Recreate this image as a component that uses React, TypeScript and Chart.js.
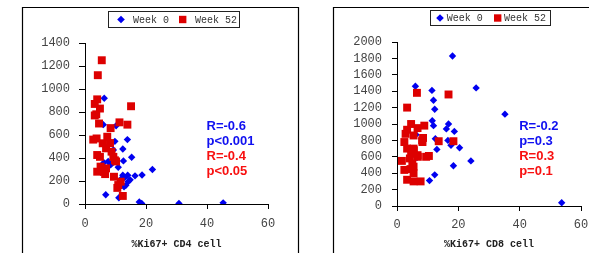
import React, { useEffect, useRef } from "react";
import { Chart, registerables } from "chart.js";

Chart.register(...registerables);

// ---- Data ----
const seriesLabels = ["Week 0", "Week 52"];

const cd4Week0: [number, number][] = [
  [6.3, 920], [6.0, 690], [10.2, 680], [13.9, 560], [9.8, 545], [9.3, 470], [12.4, 478],
  [15.3, 406], [12.6, 375], [7.6, 370], [6.2, 360], [8.4, 340], [10.9, 320], [22.1, 300],
  [12.4, 250], [14.0, 250], [16.4, 245], [18.7, 252], [14.8, 210], [14.2, 195], [13.4, 162],
  [12.8, 150], [6.8, 80], [11.1, 55], [17.8, 17], [18.6, 5], [30.8, 5], [45.3, 10],
  [12.1, 225], [13.0, 230],
];
const cd4Week52: [number, number][] = [
  [5.5, 1250], [4.2, 1120], [4.0, 910], [3.2, 870], [4.9, 830], [3.7, 780], [3.2, 770],
  [4.6, 700], [15.1, 850], [11.3, 710], [13.9, 690], [8.4, 660], [7.3, 585], [3.8, 570],
  [2.7, 560], [5.8, 528], [8.2, 530], [6.9, 484], [8.7, 455], [4.0, 426], [4.9, 410],
  [9.3, 410], [9.8, 380], [10.2, 370], [5.1, 325], [6.9, 310], [4.0, 281], [6.2, 280],
  [6.6, 260], [9.5, 237], [11.7, 194], [10.9, 165], [10.6, 140], [12.4, 70],
];
const cd8Week0: [number, number][] = [
  [18.1, 1830], [6.0, 1460], [25.8, 1440], [11.4, 1410], [11.9, 1290], [12.3, 1180],
  [35.2, 1120], [11.5, 1040], [11.9, 980], [16.8, 1000], [16.1, 940], [18.7, 910],
  [6.2, 870], [8.1, 820], [12.5, 820], [16.6, 800], [17.6, 740], [20.4, 710], [13.0, 690],
  [6.5, 590], [18.4, 490], [24.1, 550], [12.3, 380], [10.6, 310], [53.7, 40],
];
const cd8Week52: [number, number][] = [
  [6.5, 1380], [16.8, 1360], [3.3, 1200], [4.6, 1000], [3.3, 930], [6.7, 950], [8.9, 980],
  [5.4, 860], [8.5, 830], [2.4, 780], [8.3, 780], [13.6, 790], [18.4, 790], [3.3, 700],
  [5.4, 700], [4.6, 640], [6.7, 620], [1.6, 550], [4.2, 580], [6.8, 600], [9.5, 600],
  [10.4, 610], [2.4, 440], [5.4, 480], [5.4, 400], [3.3, 320], [5.4, 300], [7.7, 300],
  [4.4, 450], [5.0, 520], [5.5, 680], [2.8, 880], [8.2, 800],
];

const xTicks = { min: 0, max: 60, step: 20 };
const cd4YTicks = { min: 0, max: 1400, step: 200 };
const cd8YTicks = { min: 0, max: 2000, step: 200 };

const cd4Stats = ["R=-0.6", "p<0.001", "R=-0.4", "p<0.05"];
const cd8Stats = ["R=-0.2", "p=0.3", "R=0.3", "p=0.1"];

const BLUE = "#0000F0";
const RED_MARK = "#DD0000";
const BLUE_TEXT = "#1010F0";
const RED_TEXT = "#F81010";
const MONO = "'Liberation Mono', 'DejaVu Sans Mono', monospace";
const SANS = "'Liberation Sans', Arial, sans-serif";

type PanelCfg = {
  week0: [number, number][];
  week52: [number, number][];
  yTicks: { min: number; max: number; step: number };
  title: string;
  stats: string[];
  yWidth: number;
  padTop: number;
  padRight: number;
  xHeight: number;
  yTickLen: number;
  yTickPad: number;
  xTickPad: number;
  box: { left: number; top: number; right: number };
  legend: { left: number; top: number; w: number; h: number; m1: number; t1: number; m2: number; t2: number };
};

function drawMarker(ctx: CanvasRenderingContext2D, kind: string, x: number, y: number, r: number, color: string) {
  ctx.fillStyle = color;
  ctx.beginPath();
  if (kind === "diamond") {
    ctx.moveTo(x - r, y);
    ctx.lineTo(x, y - r);
    ctx.lineTo(x + r, y);
    ctx.lineTo(x, y + r);
    ctx.closePath();
  } else {
    ctx.rect(x - r, y - r, 2 * r, 2 * r);
  }
  ctx.fill();
}

function Panel({ cfg, left }: { cfg: PanelCfg; left: number }) {
  const ref = useRef<HTMLCanvasElement | null>(null);
  useEffect(() => {
    if (!ref.current) return;
    const decor = {
      id: "decor",
      afterDraw(chart: any) {
        const ctx = chart.ctx as CanvasRenderingContext2D;
        const xs = chart.scales.x;
        ctx.save();
        // panel border
        ctx.strokeStyle = "#000";
        ctx.lineWidth = 1.2;
        ctx.beginPath();
        ctx.moveTo(cfg.box.left, 260);
        ctx.lineTo(cfg.box.left, cfg.box.top);
        ctx.lineTo(cfg.box.right, cfg.box.top);
        ctx.lineTo(cfg.box.right, 260);
        ctx.stroke();
        // legend
        const L = cfg.legend;
        ctx.lineWidth = 1;
        ctx.strokeStyle = "#222";
        ctx.strokeRect(L.left + 0.5, L.top + 0.5, L.w, L.h);
        const cy = L.top + L.h / 2 + 0.5;
        drawMarker(ctx, "diamond", L.m1, cy, 3.8, BLUE);
        drawMarker(ctx, "square", L.m2, cy, 3.7, RED_MARK);
        ctx.fillStyle = "#333";
        ctx.font = `10px ${MONO}`;
        ctx.textBaseline = "middle";
        ctx.textAlign = "left";
        ctx.fillText(seriesLabels[0], L.t1, cy + 0.5);
        ctx.fillText(seriesLabels[1], L.t2, cy + 0.5);
        // stats text
        ctx.font = `bold 13px ${SANS}`;
        ctx.textBaseline = "alphabetic";
        const tx = xs.getPixelForValue(40) - 0.5;
        const colors = [BLUE_TEXT, BLUE_TEXT, RED_TEXT, RED_TEXT];
        cfg.stats.forEach((s, i) => {
          ctx.fillStyle = colors[i];
          ctx.fillText(s, tx, 129.5 + i * 15);
        });
        ctx.restore();
      },
    };
    const chart = new Chart(ref.current, {
      type: "scatter",
      data: {
        datasets: [
          {
            label: seriesLabels[0],
            data: cfg.week0.map(([x, y]) => ({ x, y })),
            pointStyle: "rectRot",
            pointRadius: 3.7,
            pointBorderWidth: 0,
            backgroundColor: BLUE,
            borderColor: BLUE,
            order: 2,
          },
          {
            label: seriesLabels[1],
            data: cfg.week52.map(([x, y]) => ({ x, y })),
            pointStyle: "rect",
            pointRadius: 5.6,
            pointBorderWidth: 0,
            backgroundColor: RED_MARK,
            borderColor: RED_MARK,
            order: 1,
          },
        ],
      },
      options: {
        responsive: false,
        animation: false,
        events: [],
        layout: { padding: { left: 0, top: cfg.padTop, right: cfg.padRight, bottom: 0 } },
        plugins: { legend: { display: false }, tooltip: { enabled: false } },
        scales: {
          x: {
            type: "linear",
            min: xTicks.min,
            max: xTicks.max,
            ticks: {
              stepSize: xTicks.step,
              color: "#444",
              font: { family: MONO, size: 12 },
              padding: cfg.xTickPad,
              maxRotation: 0,
              autoSkip: false,
              callback: (v: any) => String(v),
            },
            grid: { drawOnChartArea: false, drawTicks: true, tickLength: 5, color: "#000" },
            border: { display: true, color: "#000", width: 1 },
            title: {
              display: true,
              text: cfg.title,
              color: "#222",
              font: { family: MONO, size: 10, weight: "bold" },
              padding: { top: 0, bottom: 3 },
            },
            afterFit: (s: any) => {
              s.height = cfg.xHeight;
            },
          },
          y: {
            type: "linear",
            min: cfg.yTicks.min,
            max: cfg.yTicks.max,
            ticks: {
              stepSize: cfg.yTicks.step,
              color: "#444",
              font: { family: MONO, size: 12 },
              padding: cfg.yTickPad,
              autoSkip: false,
              callback: (v: any) => String(v),
            },
            grid: { drawOnChartArea: false, drawTicks: true, tickLength: cfg.yTickLen, color: "#000" },
            border: { display: true, color: "#000", width: 1 },
            afterFit: (s: any) => {
              s.width = cfg.yWidth;
            },
          },
        },
      },
      plugins: [decor],
    } as any);
    return () => chart.destroy();
  }, [cfg]);
  return (
    <canvas
      ref={ref}
      width={300}
      height={253}
      style={{ position: "absolute", left, top: 0, width: 300, height: 253 }}
    />
  );
}

const cd4Cfg: PanelCfg = {
  week0: cd4Week0,
  week52: cd4Week52,
  yTicks: cd4YTicks,
  title: "%Ki67+ CD4 cell",
  stats: cd4Stats,
  yWidth: 85,
  padTop: 43,
  padRight: 32,
  xHeight: 49,
  yTickLen: 6,
  yTickPad: 9,
  xTickPad: 8,
  box: { left: 22.5, top: 7.5, right: 298.5 },
  legend: { left: 108, top: 11, w: 131, h: 16, m1: 121, t1: 133, m2: 182.7, t2: 195 },
};

const cd8Cfg: PanelCfg = {
  week0: cd8Week0,
  week52: cd8Week52,
  yTicks: cd8YTicks,
  title: "%Ki67+ CD8 cell",
  stats: cd8Stats,
  yWidth: 97,
  padTop: 42,
  padRight: 19,
  xHeight: 47,
  yTickLen: 5,
  yTickPad: 10,
  xTickPad: 7,
  box: { left: 33.5, top: 7.5, right: 296 },
  legend: { left: 130, top: 10, w: 120, h: 15, m1: 140, t1: 146.7, m2: 197.7, t2: 204 },
};

export default function App() {
  return (
    <div
      style={{
        position: "absolute",
        left: 0,
        top: 0,
        width: 589,
        height: 253,
        overflow: "hidden",
        background: "#fff",
      }}
    >
      <Panel cfg={cd4Cfg} left={0} />
      <Panel cfg={cd8Cfg} left={300} />
    </div>
  );
}
